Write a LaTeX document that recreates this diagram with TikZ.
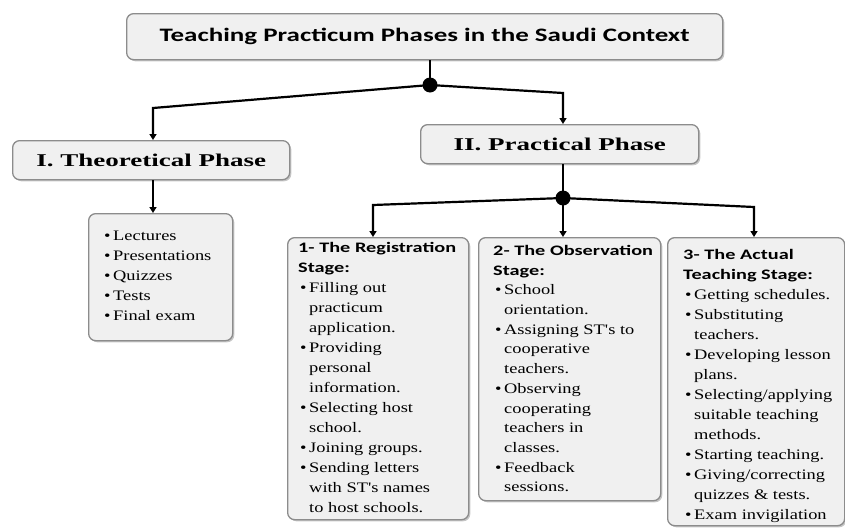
\documentclass[tikz,border=0pt]{standalone}
\usepackage{fontspec}
\setmainfont{Liberation Serif}
\newfontfamily\bodyf[FakeStretch=1.27]{Liberation Serif}
\newfontfamily\phasef[FakeStretch=1.5]{Liberation Serif}
\newfontfamily\headf[FakeStretch=1.4]{Carlito}
\newfontfamily\titlef[FakeStretch=1.42]{Carlito}
\usetikzlibrary{arrows.meta,shadows}
\newcommand{\bitem}[1]{\hspace*{2pt}\makebox[9pt][l]{\textbullet}#1}
\newcommand{\citem}[1]{\hspace*{11pt}#1}
\tikzset{
  box/.style={draw=black!45, line width=1.3pt, fill=black!6, rounded corners=7pt,
    inner sep=0pt, anchor=north west,
    drop shadow={shadow xshift=1.6pt, shadow yshift=-1.6pt, fill=black!45}},
  conn/.style={line width=2.2pt, black},
  arr/.style={conn, -{Triangle[length=6pt,width=7pt]}},
  dotn/.style={circle, fill=black, inner sep=0pt, minimum size=15pt},
  listtxt/.style={anchor=north west, inner sep=0pt, align=left},
}
\begin{document}
\begin{tikzpicture}[x=1pt,y=-1pt]
\useasboundingbox (0,0) rectangle (845,530);

% boxes
\node[box, minimum width=596pt, minimum height=46pt,
      font=\titlef\bfseries\fontsize{19}{21}\selectfont] (title) at (126,13)
      {Teaching Practicum Phases in the Saudi Context};
\node[box, minimum width=277pt, minimum height=39pt,
      font=\phasef\bfseries\fontsize{18}{20}\selectfont] (theo) at (12,140)
      {I. Theoretical Phase};
\node[box, minimum width=278pt, minimum height=39pt,
      font=\phasef\bfseries\fontsize{18}{20}\selectfont] (prac) at (420,124)
      {II. Practical Phase};
\node[box, minimum width=144pt, minimum height=127pt] (lect) at (88,213) {};
\node[box, minimum width=181pt, minimum height=282pt] (reg) at (287,237) {};
\node[box, minimum width=182pt, minimum height=263pt] (obs) at (478,237) {};
\node[box, minimum width=177pt, minimum height=288pt] (act) at (667,237) {};

% texts
\node[listtxt, font=\bodyf\fontsize{14.5}{20}\selectfont] (lecttext) at (102,231)
  {\bitem{Lectures}\\ \bitem{Presentations}\\ \bitem{Quizzes}\\ \bitem{Tests}\\ \bitem{Final exam}};

\node[listtxt, font=\bodyf\fontsize{14.5}{20}\selectfont] (regtext) at (298,242)
  {{\headf\bfseries 1- The Registration}\\
   {\headf\bfseries Stage:}\\
   \bitem{Filling out}\\ \citem{practicum}\\ \citem{application.}\\
   \bitem{Providing}\\ \citem{personal}\\ \citem{information.}\\
   \bitem{Selecting host}\\ \citem{school.}\\
   \bitem{Joining groups.}\\
   \bitem{Sending letters}\\ \citem{with ST's names}\\ \citem{to host schools.}};

\node[listtxt, font=\bodyf\fontsize{14.5}{19.7}\selectfont] (obstext) at (493,245)
  {{\headf\bfseries 2- The Observation}\\
   {\headf\bfseries Stage:}\\
   \bitem{School}\\ \citem{orientation.}\\
   \bitem{Assigning ST's to}\\ \citem{cooperative}\\ \citem{teachers.}\\
   \bitem{Observing}\\ \citem{cooperating}\\ \citem{teachers in}\\ \citem{classes.}\\
   \bitem{Feedback}\\ \citem{sessions.}};

\node[listtxt, font=\bodyf\fontsize{14.5}{20}\selectfont] (acttext) at (683,249)
  {{\headf\bfseries 3- The Actual}\\
   {\headf\bfseries Teaching Stage:}\\
   \bitem{Getting schedules.}\\
   \bitem{Substituting}\\ \citem{teachers.}\\
   \bitem{Developing lesson}\\ \citem{plans.}\\
   \bitem{Selecting/applying}\\ \citem{suitable teaching}\\ \citem{methods.}\\
   \bitem{Starting teaching.}\\
   \bitem{Giving/correcting}\\ \citem{quizzes \& tests.}\\
   \bitem{Exam invigilation}};

% junctions
\node[dotn] (dot1) at (430,85) {};
\node[dotn] (dot2) at (563,198) {};
\coordinate (c1) at (153,108);
\coordinate (c2) at (563,93);
\coordinate (c3) at (373,205);
\coordinate (c4) at (754,207);

% connectors
\draw[conn] (dot1 |- title.south) -- (dot1.center);
\draw[arr] (dot1.center) -- (c1) -- (c1 |- theo.north);
\draw[arr] (dot1.center) -- (c2) -- (c2 |- prac.north);
\draw[arr] (theo.south -| c1) -- (c1 |- lect.north);
\draw[conn] (dot2 |- prac.south) -- (dot2.center);
\draw[arr] (dot2.center) -- (c3) -- (c3 |- reg.north);
\draw[arr] (dot2.center) -- (dot2 |- obs.north);
\draw[arr] (dot2.center) -- (c4) -- (c4 |- act.north);
\end{tikzpicture}
\end{document}
